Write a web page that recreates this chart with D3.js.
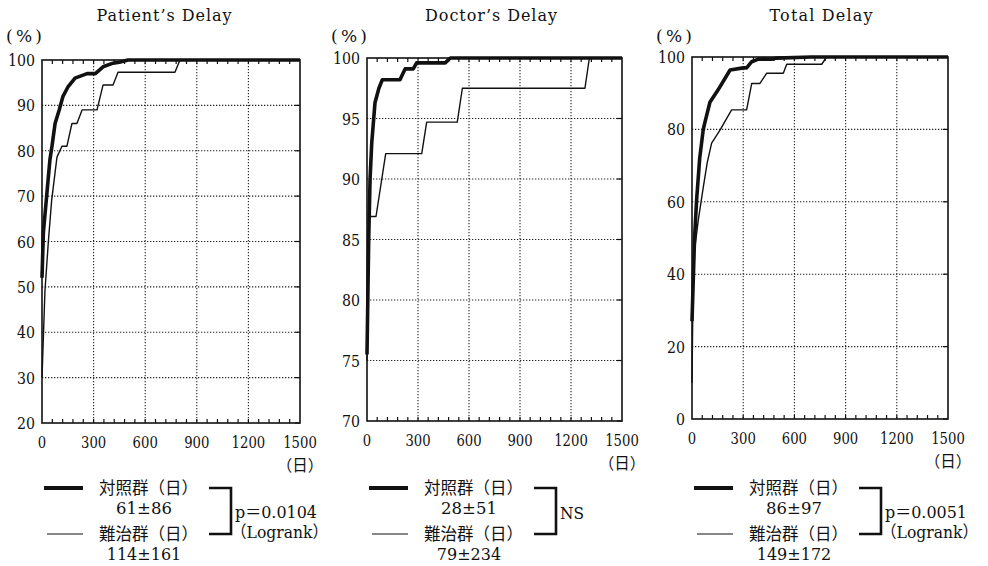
<!DOCTYPE html>
<head>
<meta charset="utf-8">
<script src="https://d3js.org/d3.v7.min.js"></script>
<style>
    body { margin: 0; background: #fff; }
    .num { font-family: "DejaVu Serif", "Noto Sans CJK JP", serif; font-size: 16.5px; fill: #111; }
    .jp { font-family: "Noto Sans CJK JP", sans-serif; font-size: 16.5px; fill: #111; }
    .title { font-family: "DejaVu Serif", serif; font-size: 16px; fill: #111; }
</style>
</head>
<body>
<script>
// data
var titles = ["Patient\u2019s Delay", "Doctor\u2019s Delay", "Total Delay"];
var xTicks = [0, 300, 600, 900, 1200, 1500];
var yTicks = [
    [20, 30, 40, 50, 60, 70, 80, 90, 100],
    [70, 75, 80, 85, 90, 95, 100],
    [0, 20, 40, 60, 80, 100]
];

// 対照群 (thick) / 難治群 (thin): cumulative % by day
var patientCtrlDays = [0, 8, 27, 46, 58, 76, 100, 122, 150, 192, 262, 310, 355, 413, 450, 500, 1500];
var patientCtrlPct  = [52, 62, 70, 78, 81, 86, 89, 92, 94, 96, 97, 97, 98.5, 99.3, 99.5, 100, 100];
var patientHardDays = [0, 17, 37, 56, 87, 116, 145, 174, 203, 233, 320, 355, 413, 442, 773, 802, 1500];
var patientHardPct  = [30, 49, 60, 69, 78.6, 81, 81, 86, 86, 89, 89, 94.5, 94.5, 97.3, 97.3, 100, 100];

var doctorCtrlDays = [0, 10, 18, 28, 47, 70, 90, 194, 224, 272, 292, 460, 490, 1500];
var doctorCtrlPct  = [75.5, 85, 90, 93, 96.3, 97.5, 98.2, 98.2, 99.1, 99.1, 99.6, 99.6, 100, 100];
var doctorHardDays = [0, 14, 53, 110, 322, 351, 531, 561, 1282, 1308, 1500];
var doctorHardPct  = [75, 86.9, 86.9, 92.1, 92.1, 94.7, 94.7, 97.5, 97.5, 100, 100];

var totalCtrlDays = [0, 15, 27, 45, 66, 76, 105, 154, 223, 300, 320, 350, 389, 467, 496, 700, 1500];
var totalCtrlPct  = [27, 50, 60.5, 72, 80, 82, 87.5, 91, 96.4, 97, 97, 98.7, 99.4, 99.4, 99.7, 100, 100];
var totalHardDays = [0, 8, 37, 66, 90, 115, 164, 232, 320, 350, 398, 437, 535, 555, 760, 789, 1500];
var totalHardPct  = [10, 44, 55, 64, 71, 76.2, 79.8, 85.4, 85.4, 92.7, 92.7, 95.5, 95.5, 98, 98, 100, 100];

var ctrlDays = [patientCtrlDays, doctorCtrlDays, totalCtrlDays];
var ctrlPct  = [patientCtrlPct, doctorCtrlPct, totalCtrlPct];
var hardDays = [patientHardDays, doctorHardDays, totalHardDays];
var hardPct  = [patientHardPct, doctorHardPct, totalHardPct];

var ctrlLabel = "対照群（日）", hardLabel = "難治群（日）";
var ctrlStats = ["61±86", "28±51", "86±97"];
var hardStats = ["114±161", "79±234", "149±172"];
var pLabels = [["p＝0.0104", "（Logrank）"], ["NS"], ["p＝0.0051", "（Logrank）"]];
</script>

<script>
var w = 988, h = 566;
var svg = d3.select("body").append("svg").attr("width", w).attr("height", h);

// plot boxes and title placement
var boxes = [
    {l: 42, r: 300, t: 60, b: 423, tx: 164, tw: 135},
    {l: 367, r: 622, t: 58, b: 421, tx: 491, tw: 132},
    {l: 692, r: 948, t: 57, b: 419, tx: 821, tw: 103}
];

boxes.forEach(function(bx, p) {
    var x = d3.scaleLinear().domain([0, 1500]).range([bx.l, bx.r]);
    var yt = yTicks[p];
    var y = d3.scaleLinear().domain([yt[0], 100]).range([bx.b, bx.t]);
    var g = svg.append("g");

    // title
    g.append("text").attr("class", "title")
        .attr("x", bx.tx).attr("y", 21)
        .attr("text-anchor", "middle")
        .attr("textLength", bx.tw).attr("lengthAdjust", "spacing")
        .text(titles[p]);
    g.append("text").attr("class", "num").style("font-size", "17px")
        .attr("x", bx.l - 18).attr("y", 42)
        .attr("text-anchor", "middle")
        .attr("textLength", 36).attr("lengthAdjust", "spacing")
        .text("(%)");

    // grid
    g.selectAll("line.hg").data(yt.slice(1, -1)).enter().append("line")
        .attr("x1", bx.l).attr("x2", bx.r)
        .attr("y1", function(d) { return y(d); }).attr("y2", function(d) { return y(d); })
        .attr("stroke", "#222").attr("stroke-width", 1.1).attr("stroke-dasharray", "1.3,1.7");
    g.selectAll("line.vg").data(xTicks.slice(1, -1)).enter().append("line")
        .attr("y1", bx.t).attr("y2", bx.b)
        .attr("x1", function(d) { return x(d); }).attr("x2", function(d) { return x(d); })
        .attr("stroke", "#222").attr("stroke-width", 1.1).attr("stroke-dasharray", "1.3,1.7");

    // minor ticks on top / bottom, every 60 days
    var minor = d3.range(60, 1500, 60);
    g.selectAll("line.tb").data(minor).enter().append("line")
        .attr("x1", function(d) { return x(d); }).attr("x2", function(d) { return x(d); })
        .attr("y1", bx.t).attr("y2", bx.t + 4)
        .attr("stroke", "#111").attr("stroke-width", 1.2);
    g.selectAll("line.bb").data(minor).enter().append("line")
        .attr("x1", function(d) { return x(d); }).attr("x2", function(d) { return x(d); })
        .attr("y1", bx.b).attr("y2", bx.b - 4)
        .attr("stroke", "#111").attr("stroke-width", 1.2);
    g.selectAll("line.rt").data(yt).enter().append("line")
        .attr("x1", bx.r - 5).attr("x2", bx.r)
        .attr("y1", function(d) { return y(d); }).attr("y2", function(d) { return y(d); })
        .attr("stroke", "#111").attr("stroke-width", 1.2);

    // frame
    g.append("rect").attr("x", bx.l).attr("y", bx.t)
        .attr("width", bx.r - bx.l).attr("height", bx.b - bx.t)
        .attr("fill", "none").attr("stroke", "#111").attr("stroke-width", 1.6);

    // axis labels
    g.selectAll("text.yl").data(yt).enter().append("text").attr("class", "num")
        .attr("x", bx.l - 7).attr("y", function(d) { return y(d) + 6; })
        .attr("text-anchor", "end")
        .attr("textLength", function(d) { return String(d).length * 9; })
        .attr("lengthAdjust", "spacingAndGlyphs")
        .text(function(d) { return d; });
    g.selectAll("text.xl").data(xTicks).enter().append("text").attr("class", "num")
        .attr("x", function(d) { return x(d); }).attr("y", bx.b + 25)
        .attr("text-anchor", "middle")
        .attr("textLength", function(d) { return String(d).length * 8.4; })
        .attr("lengthAdjust", "spacingAndGlyphs")
        .text(function(d) { return d; });
    g.append("text").attr("class", "jp").style("font-size", "15.5px")
        .attr("x", x(1500)).attr("y", bx.b + 48)
        .attr("text-anchor", "middle").text("（日）");

    // curves
    var line = d3.line().x(function(d) { return x(d[0]); }).y(function(d) { return y(d[1]); });
    g.append("path").datum(d3.zip(hardDays[p], hardPct[p]))
        .attr("d", line).attr("fill", "none").attr("stroke", "#111").attr("stroke-width", 1.4)
        .attr("stroke-linejoin", "round");
    g.append("path").datum(d3.zip(ctrlDays[p], ctrlPct[p]))
        .attr("d", line).attr("fill", "none").attr("stroke", "#111").attr("stroke-width", 3.6)
        .attr("stroke-linejoin", "round");

    // legend
    var lx = bx.l + 2, ly1 = 488, ly2 = 534;
    g.append("line").attr("x1", lx).attr("x2", lx + 39).attr("y1", ly1).attr("y2", ly1)
        .attr("stroke", "#111").attr("stroke-width", 4);
    g.append("line").attr("x1", lx + 3).attr("x2", lx + 39).attr("y1", ly2).attr("y2", ly2)
        .attr("stroke", "#111").attr("stroke-width", 1.2);
    g.append("text").attr("class", "jp").attr("x", lx + 55).attr("y", ly1 + 6).text(ctrlLabel);
    g.append("text").attr("class", "jp").attr("x", lx + 55).attr("y", ly2 + 6).text(hardLabel);
    g.append("text").attr("class", "num").attr("x", lx + 100).attr("y", ly1 + 26)
        .attr("text-anchor", "middle").text(ctrlStats[p]);
    g.append("text").attr("class", "num").style("font-size", "16px")
        .attr("x", lx + 100).attr("y", 560)
        .attr("text-anchor", "middle").text(hardStats[p]);

    var bxl = lx + 165, bxr = lx + 187;
    g.append("path")
        .attr("d", "M" + bxl + "," + ly1 + "H" + bxr + "V" + ly2 + "H" + bxl)
        .attr("fill", "none").attr("stroke", "#111").attr("stroke-width", 2.6);
    var pl = pLabels[p];
    g.selectAll("text.p").data(pl).enter().append("text")
        .attr("class", "num")
        .attr("x", function(d, i) { return pl.length > 1 && i == 1 ? bxr : bxr + 4; })
        .attr("y", function(d, i) { return pl.length > 1 ? 518 + i * 20 : 519; })
        .attr("textLength", function(d, i) { return pl.length > 1 ? (i == 0 ? 82 : 97) : 24; })
        .attr("lengthAdjust", "spacingAndGlyphs")
        .text(function(d) { return d; });
});
</script>
</body>
</html>
